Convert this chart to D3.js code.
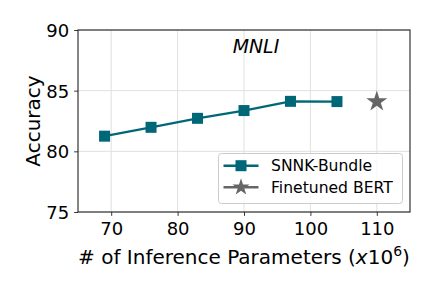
<!DOCTYPE html>
<html>
<head>
<meta charset="utf-8">
<script src="https://cdn.jsdelivr.net/npm/d3@7"></script>
<style>
  body { margin: 0; background: #fff; }
  text { font-family: "DejaVu Sans", sans-serif; fill: #000; }
</style>
</head>
<body>
<svg id="chart" width="432" height="288"></svg>
<script>
const bundleParams = [69, 76, 83, 90, 97, 104];
const bundleAcc = [81.25, 81.98, 82.72, 83.36, 84.12, 84.1];
const bertParams = [110];
const bertAcc = [84.1];
const xTicks = [70, 80, 90, 100, 110];
const yTicks = [75, 80, 85, 90];

const teal = "#006778", gray = "#666666";

var svg = d3.select("#chart"),
  margin = { top: 30, right: 22, bottom: 76, left: 78 },
  width = +svg.attr("width") - margin.left - margin.right,
  height = +svg.attr("height") - margin.top - margin.bottom;

var x = d3.scaleLinear().domain([65, 115]).range([0, width]),
  y = d3.scaleLinear().domain([75, 90]).range([height, 0]);

var g = svg.append("g")
  .attr("transform", "translate(" + margin.left + "," + margin.top + ")");

// grid
g.selectAll(".gx").data(xTicks).enter().append("line")
  .attr("x1", d => x(d)).attr("x2", d => x(d))
  .attr("y1", 0).attr("y2", height)
  .attr("stroke", "#dddddd").attr("stroke-width", 0.9);
g.selectAll(".gy").data(yTicks).enter().append("line")
  .attr("y1", d => y(d)).attr("y2", d => y(d))
  .attr("x1", 0).attr("x2", width)
  .attr("stroke", "#dddddd").attr("stroke-width", 0.9);

// axes
var xAxis = g.append("g")
  .attr("transform", "translate(0," + height + ")")
  .call(d3.axisBottom(x).tickValues(xTicks).tickSize(3.9).tickPadding(6));
var yAxis = g.append("g")
  .call(d3.axisLeft(y).tickValues(yTicks).tickSize(3.9).tickPadding(5));
[xAxis, yAxis].forEach(a => {
  a.select(".domain").remove();
  a.selectAll("line").attr("stroke", "#222").attr("stroke-width", 0.9);
  a.selectAll("text").attr("font-size", 18).attr("font-family", "DejaVu Sans").attr("fill", "#000");
});
yAxis.selectAll("text").attr("dy", "0.36em");

g.append("rect")
  .attr("width", width).attr("height", height)
  .attr("fill", "none").attr("stroke", "#222").attr("stroke-width", 1.1);

// SNNK-Bundle line
var pts = bundleParams.map((p, i) => [p, bundleAcc[i]]);
g.append("path")
  .datum(pts)
  .attr("fill", "none").attr("stroke", teal).attr("stroke-width", 2.2)
  .attr("d", d3.line().x(d => x(d[0])).y(d => y(d[1])));
g.selectAll(".sq").data(pts).enter().append("rect")
  .attr("x", d => x(d[0]) - 5.5).attr("y", d => y(d[1]) - 5.5)
  .attr("width", 11).attr("height", 11).attr("fill", teal);

// Finetuned BERT star
var star = d3.symbol().type(d3.symbolStar).size(137);
g.selectAll(".star").data(bertParams).enter().append("path")
  .attr("d", star)
  .attr("transform", (d, i) => "translate(" + x(d) + "," + y(bertAcc[i]) + ")")
  .attr("fill", gray);

// title
g.append("text")
  .attr("x", x(91.8)).attr("y", 23)
  .attr("text-anchor", "middle").attr("font-size", 18.9).attr("font-style", "italic")
  .text("MNLI");

// axis labels
svg.append("text")
  .attr("x", margin.left + width / 2).attr("y", 264)
  .attr("text-anchor", "middle").attr("font-size", 20)
  .html("# of Inference Parameters (<tspan font-style='italic'>x</tspan>10<tspan dy='-8' font-size='14'>6</tspan><tspan dy='8'>)</tspan>");
svg.append("text")
  .attr("transform", "translate(40," + (margin.top + height / 2) + ") rotate(-90)")
  .attr("text-anchor", "middle").attr("font-size", 20)
  .text("Accuracy");

// legend
var lg = svg.append("g").attr("transform", "translate(218.5,153.5)");
lg.append("rect").attr("width", 184).attr("height", 50).attr("rx", 3)
  .attr("fill", "#fff").attr("fill-opacity", 0.8)
  .attr("stroke", "#cccccc").attr("stroke-width", 1);
var entries = [
  { name: "SNNK-Bundle", color: teal, sym: "sq", cy: 12.2 },
  { name: "Finetuned BERT", color: gray, sym: "star", cy: 33.8 }
];
entries.forEach(e => {
  lg.append("line").attr("x1", 5).attr("x2", 40).attr("y1", e.cy).attr("y2", e.cy)
    .attr("stroke", e.color).attr("stroke-width", 2.5);
  if (e.sym === "sq") {
    lg.append("rect").attr("x", 22.5 - 5.5).attr("y", e.cy - 5.5)
      .attr("width", 11).attr("height", 11).attr("fill", e.color);
  } else {
    lg.append("path").attr("d", d3.symbol().type(d3.symbolStar).size(90))
      .attr("transform", "translate(22.5," + e.cy + ")").attr("fill", e.color);
  }
  lg.append("text").attr("x", 52.5).attr("y", e.cy).attr("dy", "0.36em")
    .attr("font-size", 15.6).text(e.name);
});
</script>
</body>
</html>
